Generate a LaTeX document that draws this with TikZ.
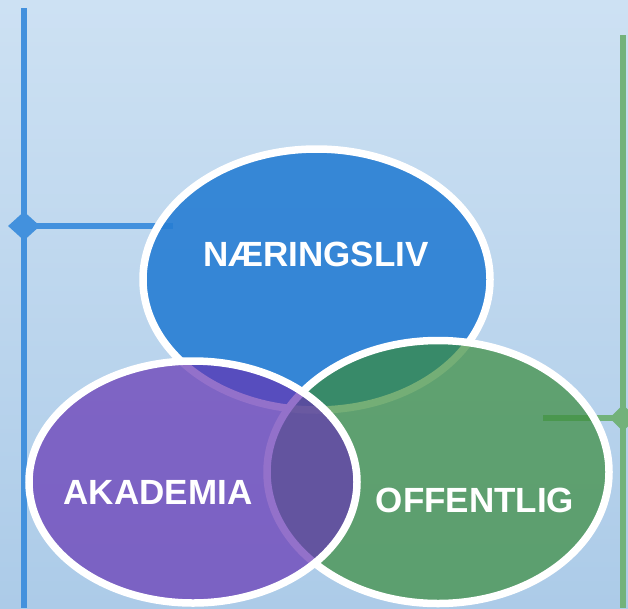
\documentclass[tikz,border=0pt]{standalone}
\usepackage{fontspec}
\setmainfont{Liberation Sans}
\usetikzlibrary{shapes.geometric}
\definecolor{bgtop}{HTML}{CDE1F3}
\definecolor{bgbot}{HTML}{ACCBE8}
\definecolor{naerblue}{HTML}{277ED4}
\definecolor{offgreen}{HTML}{3A8C3C}
\definecolor{akapurple}{HTML}{6635B4}
\definecolor{lineblue}{HTML}{4391DD}
\definecolor{linegreen}{HTML}{72B27A}
\tikzset{
  venn/.style={ellipse,draw=white,line width=7.5pt,inner sep=0pt,fill opacity=0.7},
  venntext/.style={text=white,font=\bfseries\fontsize{35}{40}\selectfont},
  sidemark/.style={diamond,inner sep=0pt,minimum width=32pt,minimum height=29pt},
  sideline/.style={line width=6.5pt}
}
\begin{document}
\begin{tikzpicture}[x=1pt,y=-1pt]
  \clip (0,0) rectangle (628,608);
  \shade[top color=bgtop,bottom color=bgbot] (0,0) rectangle (628,608);
  % side lines
  \coordinate (lt) at (24,8);
  \coordinate (lb) at (24,608);
  \coordinate (le) at (173,226);
  \coordinate (rt) at (623,35);
  \coordinate (rb) at (623,608);
  \coordinate (re) at (543,418);
  \node[sidemark,fill=lineblue] (dl) at (24,226) {};
  \node[sidemark,fill=linegreen,minimum width=27pt,minimum height=27pt] (dr) at (623,418) {};
  \draw[sideline,lineblue] (lt) -- (lb);
  \draw[sideline,lineblue] (dl.center) -- (le);
  \draw[sideline,linegreen] (rt) -- (rb);
  \draw[sideline,linegreen] (dr.center) -- (re);
  % circles
  \node[venn,fill=naerblue,fill opacity=0.9,minimum width=347pt,minimum height=261pt] (naer) at (316.5,279.5) {};
  \node[venn,fill=offgreen,minimum width=342pt,minimum height=263pt] (off) at (438,472) {};
  \node[venn,fill=akapurple,minimum width=328pt,minimum height=242pt] (aka) at (193,482) {};
  \node[venntext] (naertext) at (316,254) {NÆRINGSLIV};
  \node[venntext] (akatext) at (158,492) {AKADEMIA};
  \node[venntext] (offtext) at (475,500) {OFFENTLIG};
\end{tikzpicture}
\end{document}
